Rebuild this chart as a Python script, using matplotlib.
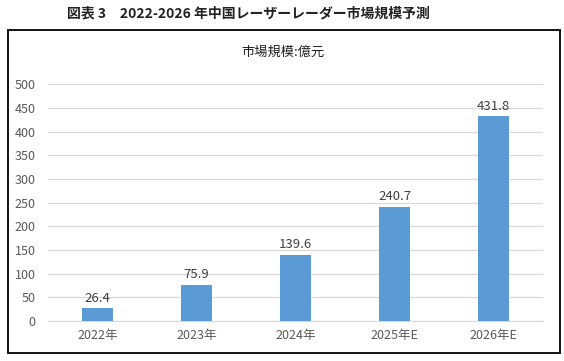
import matplotlib.pyplot as plt
from matplotlib.patches import Rectangle

plt.rcParams['font.family'] = ['Noto Sans CJK JP', 'DejaVu Sans']

categories = ['2022年', '2023年', '2024年', '2025年E', '2026年E']
values = [26.4, 75.9, 139.6, 240.7, 431.8]
yticks = [0, 50, 100, 150, 200, 250, 300, 350, 400, 450, 500]

fig = plt.figure(figsize=(5.64, 3.61), dpi=100)

# frame around the chart
fig.patches.append(Rectangle((0.0142, 0.022), 0.978, 0.895, transform=fig.transFigure,
                             fill=False, edgecolor='black', linewidth=1.3))

fig.text(0.44, 0.963, '図表 3　2022-2026 年中国レーザーレーダー市場規模予測',
         ha='center', va='center', fontsize=10, fontweight='bold', color='#222222')
fig.text(0.502, 0.856, '市場規模:億元', ha='center', va='center', fontsize=9.5, color='#222222')

ax = fig.add_axes([0.085, 0.1108, 0.878, 0.656])
x = range(len(categories))
bars = ax.bar(x, values, width=0.31, color='#5b9bd5', zorder=3)
for xi, v in zip(x, values):
    ax.text(xi, v + 8, f'{v:.1f}', ha='center', va='bottom', fontsize=9.5, color='#404040')

ax.set_xlim(-0.5, 4.5)
ax.set_ylim(0, 500)
ax.set_yticks(yticks)
ax.set_xticks(list(x))
ax.set_xticklabels(categories)
ax.tick_params(axis='both', length=0, labelsize=9, colors='#595959')
ax.tick_params(axis='y', pad=9)
ax.tick_params(axis='x', pad=6)
ax.grid(axis='y', color='#d9d9d9', linewidth=0.9, zorder=0)
for s in ['top', 'right', 'left']:
    ax.spines[s].set_visible(False)
ax.spines['bottom'].set_color('#d9d9d9')

plt.savefig('out.png', dpi=100)
